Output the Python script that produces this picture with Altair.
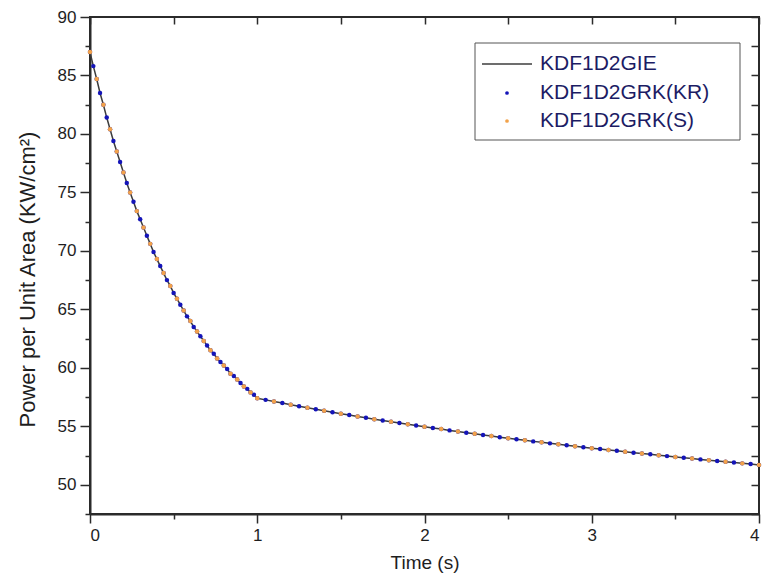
import altair as alt
import pandas as pd

# ---- data ----
# first segment (0 .. 1 s), sampled every 0.02 s
t_first = [round(i * 0.02, 2) for i in range(51)]
p_first = [87.0, 85.8, 84.7, 83.5, 82.5, 81.4, 80.4, 79.4, 78.5, 77.6,
           76.7, 75.8, 75.0, 74.2, 73.4, 72.7, 72.0, 71.3, 70.6, 69.9,
           69.3, 68.7, 68.1, 67.5, 67.0, 66.4, 65.9, 65.4, 64.9, 64.4,
           64.0, 63.5, 63.1, 62.7, 62.3, 61.9, 61.5, 61.2, 60.8, 60.5,
           60.2, 59.9, 59.5, 59.3, 59.0, 58.7, 58.4, 58.2, 57.9, 57.7,
           57.4]
# second segment (1.05 .. 4 s), sampled every 0.05 s
t_second = [round(1.0 + i * 0.05, 2) for i in range(1, 61)]
p_second = [57.26, 57.12, 56.99, 56.85, 56.72, 56.59, 56.46, 56.33, 56.20, 56.08,
            55.96, 55.84, 55.73, 55.61, 55.50, 55.39, 55.28, 55.17, 55.07, 54.96,
            54.86, 54.76, 54.65, 54.55, 54.45, 54.36, 54.26, 54.17, 54.07, 53.98,
            53.89, 53.80, 53.71, 53.63, 53.54, 53.46, 53.38, 53.29, 53.21, 53.13,
            53.05, 52.97, 52.90, 52.82, 52.74, 52.67, 52.60, 52.52, 52.45, 52.38,
            52.31, 52.24, 52.17, 52.10, 52.03, 51.96, 51.90, 51.83, 51.77, 51.70]

series_names = ["KDF1D2GIE", "KDF1D2GRK(KR)", "KDF1D2GRK(S)"]
series_colors = ["#3c3c3c", "#1414b8", "#f2a24a"]
x_ticks = [0, 0.5, 1, 1.5, 2, 2.5, 3, 3.5, 4]
y_ticks = [47.5, 50, 52.5, 55, 57.5, 60, 62.5, 65, 67.5, 70, 72.5, 75, 77.5,
           80, 82.5, 85, 87.5, 90]

times = t_first + t_second
power = p_first + p_second
df_gie = pd.DataFrame({"t": times, "p": power})
df_kr = pd.DataFrame({"t": times, "p": power})
df_s = pd.DataFrame({"t": times[::2], "p": power[::2]})

FONT = "Liberation Sans"
AX = "#2b2b2b"
TXT = "#1e1e1e"
W, H = 669, 497

xs = alt.Scale(domain=[0, 4], nice=False, zero=False)
ys = alt.Scale(domain=[47.5, 90], nice=False, zero=False)

x_main = alt.Axis(
    orient="bottom", values=x_ticks, grid=False,
    labelExpr="datum.value % 1 === 0 ? format(datum.value, 'd') : ''",
    tickSize={"condition": {"test": "datum.value % 1 === 0", "value": 9}, "value": 5},
    tickColor=AX, tickWidth=1.5, domainColor=AX, domainWidth=2,
    labelFont=FONT, labelFontSize=17, labelColor=TXT, labelPadding=4,
    title="Time (s)", titleFont=FONT, titleFontSize=19, titleFontWeight="normal",
    titleColor=TXT, titlePadding=10,
)
y_main = alt.Axis(
    orient="left", values=y_ticks, grid=False,
    labelExpr="datum.value % 5 === 0 ? format(datum.value, 'd') : ''",
    tickSize={"condition": {"test": "datum.value % 5 === 0", "value": 10}, "value": 5},
    tickColor=AX, tickWidth=1.5, domainColor=AX, domainWidth=2,
    labelFont=FONT, labelFontSize=17, labelColor=TXT, labelPadding=4,
    title="Power per Unit Area   (KW/cm²)", titleFont=FONT, titleFontSize=22,
    titleFontWeight="normal", titleColor=TXT, titlePadding=18, titleY=262,
)
x_top = alt.Axis(orient="top", values=x_ticks, labels=False, domain=False, grid=False,
                 tickSize=7, offset=-7, tickColor=AX, tickWidth=1.5, title=None)
y_right = alt.Axis(orient="right", values=y_ticks, labels=False, domain=False, grid=False,
                   tickSize=8, offset=-8, tickColor=AX, tickWidth=1.5, title=None)

line = alt.Chart(df_gie).mark_line(color=series_colors[0], strokeWidth=1.5).encode(
    x=alt.X("t:Q", scale=xs, axis=x_main),
    y=alt.Y("p:Q", scale=ys, axis=y_main),
)
frame_axes = alt.Chart(df_gie).mark_point(opacity=0).encode(
    x=alt.X("t:Q", scale=xs, axis=x_top),
    y=alt.Y("p:Q", scale=ys, axis=y_right),
)
dots_kr = alt.Chart(df_kr).mark_circle(color=series_colors[1], size=20, opacity=1).encode(
    x=alt.X("t:Q", scale=xs, axis=None),
    y=alt.Y("p:Q", scale=ys, axis=None),
)
dots_s = alt.Chart(df_s).mark_circle(color=series_colors[2], size=20, opacity=1).encode(
    x=alt.X("t:Q", scale=xs, axis=None),
    y=alt.Y("p:Q", scale=ys, axis=None),
)

# ---- legend box ----
one = pd.DataFrame({"k": [0]})
legend_box = alt.Chart(one).mark_rect(fill="white", stroke="#555555", strokeWidth=1).encode(
    x=alt.value(385), x2=alt.value(650), y=alt.value(26), y2=alt.value(123)
)
legend_line = alt.Chart(one).mark_rule(color=series_colors[0], strokeWidth=1.5).encode(
    x=alt.value(392), x2=alt.value(442), y=alt.value(47)
)
legend_dot_kr = alt.Chart(one).mark_circle(color=series_colors[1], size=14, opacity=1).encode(
    x=alt.value(417), y=alt.value(76)
)
legend_dot_s = alt.Chart(one).mark_circle(color=series_colors[2], size=14, opacity=1).encode(
    x=alt.value(417), y=alt.value(104)
)
legend_texts = []
for name, yy in zip(series_names, [47, 76, 104]):
    legend_texts.append(
        alt.Chart(one).mark_text(text=name, align="left", baseline="middle",
                                 font=FONT, fontSize=21, color="#1c1c64").encode(
            x=alt.value(450), y=alt.value(yy)
        )
    )

chart = alt.layer(
    line, frame_axes, dots_kr, dots_s,
    legend_box, legend_line, legend_dot_kr, legend_dot_s, *legend_texts
).resolve_axis(
    x="independent", y="independent"
).properties(
    width=W, height=H,
    autosize=alt.AutoSizeParams(type="none"),
    padding={"left": 90, "top": 17, "right": 3, "bottom": 66},
    background="white",
).configure_view(
    stroke=AX, strokeWidth=2
)

chart.save("out.html", embed_options={"renderer": "svg", "actions": False})
